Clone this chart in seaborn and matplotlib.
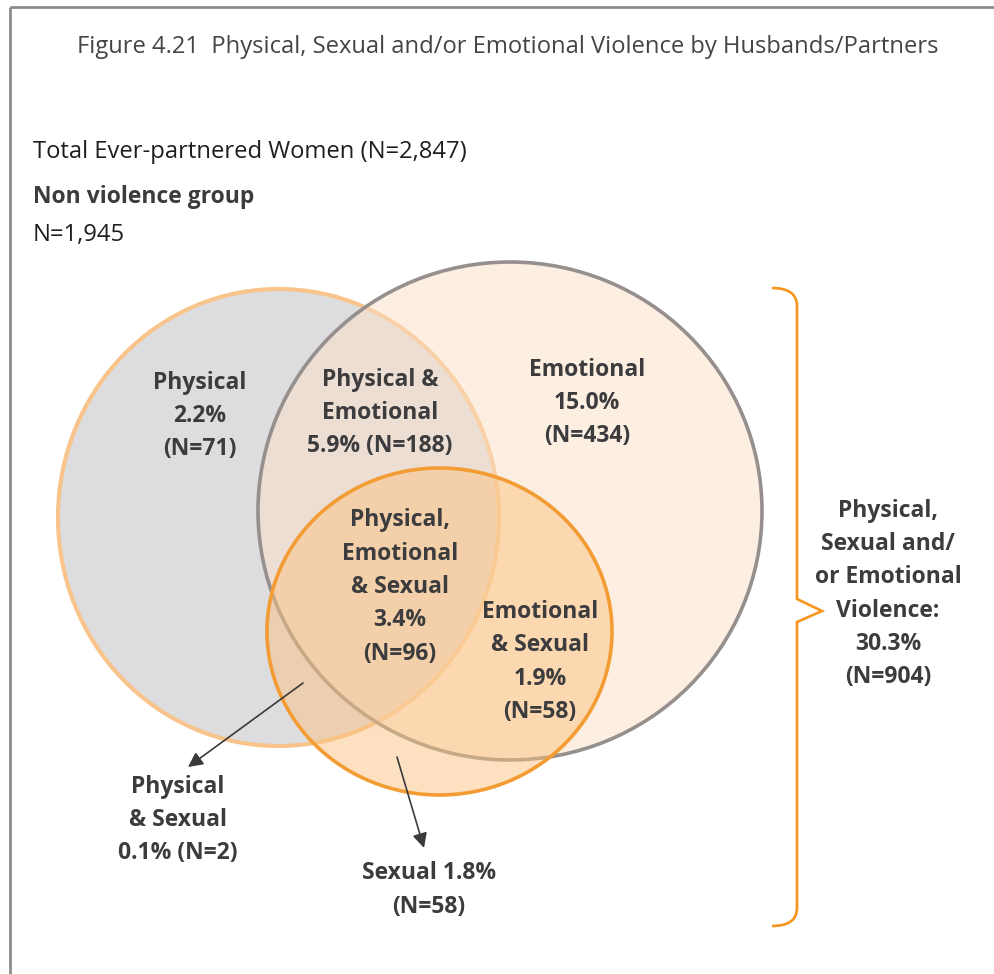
import matplotlib.pyplot as plt
from matplotlib.patches import Ellipse, PathPatch
from matplotlib.path import Path
import seaborn as sns

sns.set_theme(style="white")
plt.rcParams['font.family'] = ['Open Sans', 'DejaVu Sans']

# data
total_n = 2847
nonviolence_n = 1945
violence_pct = 30.3
violence_n = 904

region_keys = ["P", "PE", "E", "PES", "ES", "PS", "S"]
region_pct = [2.2, 5.9, 15.0, 3.4, 1.9, 0.1, 1.8]
region_n = [71, 188, 434, 96, 58, 2, 58]
region_templates = [
    "Physical\n{p:.1f}%\n(N={n})",
    "Physical &\nEmotional\n{p:.1f}% (N={n})",
    "Emotional\n{p:.1f}%\n(N={n})",
    "Physical,\nEmotional\n& Sexual\n{p:.1f}%\n(N={n})",
    "Emotional\n& Sexual\n{p:.1f}%\n(N={n})",
    "Physical\n& Sexual\n{p:.1f}% (N={n})",
    "Sexual {p:.1f}%\n(N={n})",
]

# layout (pixel coords, y down)
circles = {
    # name: (cx, cy, w, h, face, alpha, edge, lw)
    "Physical": (278.5, 517.5, 441, 457, "#dddde0", 1.0, "#f8c48b", 3.0),
    "Emotional": (510, 511, 504, 498, "#fbdfc5", 0.5, "#958f8d", 2.6),
    "Sexual": (439.5, 631.5, 345, 327, "#fbc381", 0.5, "#f39c33", 2.6),
}
label_pos = {
    "P": (200, 416), "PE": (380, 413), "E": (587, 403), "PES": (400, 587),
    "ES": (540, 662), "PS": (178, 820), "S": (429, 890),
}
arrows = {"PS": ((303, 683), (188, 767)), "S": ((397, 757), (424, 848))}

TXT = "#3c3c3e"
FS = 16.5
LS = 1.52


def draw_frame(ax):
    ax.plot([10, 994], [7, 7], color="#8c8c8c", lw=2, solid_capstyle="butt")
    ax.plot([10, 10], [7, 974], color="#8c8c8c", lw=2, solid_capstyle="butt")


def draw_bracket(ax):
    verts = [(772, 288), (797, 288), (797, 306), (797, 599), (822, 611),
             (797, 622), (797, 908), (797, 926), (772, 926)]
    codes = [Path.MOVETO, Path.CURVE3, Path.CURVE3, Path.LINETO, Path.LINETO,
             Path.LINETO, Path.LINETO, Path.CURVE3, Path.CURVE3]
    ax.add_patch(PathPatch(Path(verts, codes), fill=False, edgecolor="#f7941d", lw=1.9))


def main():
    fig = plt.figure(figsize=(9.94, 9.74), dpi=100)
    ax = fig.add_axes([0, 0, 1, 1])
    ax.set_xlim(0, 994)
    ax.set_ylim(974, 0)
    ax.axis("off")

    draw_frame(ax)

    for name, (cx, cy, w, h, face, alpha, edge, lw) in circles.items():
        ax.add_patch(Ellipse((cx, cy), w, h, facecolor=face, alpha=alpha, edgecolor="none"))
        ax.add_patch(Ellipse((cx, cy), w, h, facecolor="none", edgecolor=edge, lw=lw))

    for key, p, n, tmpl in zip(region_keys, region_pct, region_n, region_templates):
        x, y = label_pos[key]
        ax.text(x, y, tmpl.format(p=p, n=n), ha="center", va="center", fontsize=FS,
                fontweight="bold", color=TXT, linespacing=LS)

    for key, (start, tip) in arrows.items():
        ax.annotate("", xy=tip, xytext=start,
                    arrowprops=dict(arrowstyle="-|>", color="#3a3a3a", lw=1.2,
                                    mutation_scale=22, shrinkA=0, shrinkB=0))

    draw_bracket(ax)
    ax.text(888, 594, "Physical,\nSexual and/\nor Emotional\nViolence:\n{:.1f}%\n(N={})".format(violence_pct, violence_n),
            ha="center", va="center", fontsize=FS, fontweight="bold", color=TXT, linespacing=LS)

    ax.text(508, 47, "Figure 4.21  Physical, Sexual and/or Emotional Violence by Husbands/Partners",
            ha="center", va="center", fontsize=17.1, color="#444446")
    ax.text(33, 158, "Total Ever-partnered Women (N={:,})".format(total_n), ha="left", va="baseline",
            fontsize=17.1, color="#1e1e1e")
    ax.text(33, 203, "Non violence group", ha="left", va="baseline", fontsize=16.5,
            fontweight="bold", color=TXT)
    ax.text(33, 241, "N={:,}".format(nonviolence_n), ha="left", va="baseline", fontsize=17.1,
            color="#1e1e1e")

    fig.savefig("out.png", dpi=100, facecolor="white")
    plt.close(fig)


if __name__ == "__main__":
    main()
